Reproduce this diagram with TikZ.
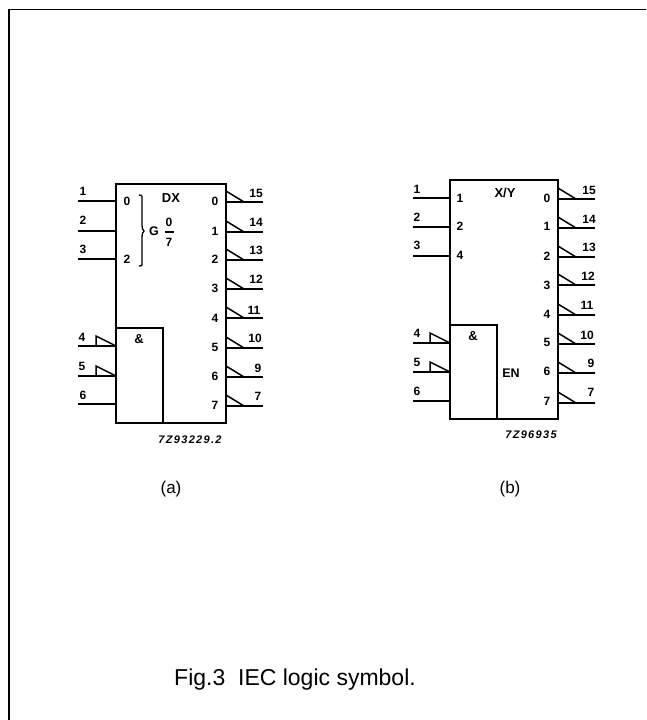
\documentclass[tikz,border=0pt]{standalone}
\usepackage{fontspec}
\setmainfont{Liberation Sans}
\tikzset{
  sym/.style={line width=2.1pt,draw=black},
  wire/.style={line width=2pt,draw=black},
  thin wire/.style={line width=1.5pt,draw=black},
  pin/.style={font=\bfseries\fontsize{12}{14}\selectfont,inner sep=0pt,anchor=center},
  tag/.style={font=\bfseries\itshape\fontsize{11}{13}\selectfont\addfontfeature{LetterSpace=12},inner sep=0pt},
  capt/.style={font=\fontsize{17}{20}\selectfont,inner sep=0pt},
}
\begin{document}
\begin{tikzpicture}[x=1pt,y=-1pt]
\useasboundingbox (0,0) rectangle (646,720);
\draw[line width=1.8pt] (9,720) -- (9,9.5) -- (646,9.5);
% (a)
\node[draw,sym,minimum width=110pt,minimum height=239pt,inner sep=0pt] (boxa) at (171,303.5) {};
\node[draw,sym,minimum width=47pt,minimum height=95pt,inner sep=0pt] (anda) at (139.5,375.5) {};
\foreach \y/\t/\ly in {201/1/191.7,231/2/220.7,259/3/249.3,404/6/395}{
  \draw[wire] (78,\y) -- (116,\y);
  \node[pin] at (83,\ly) {\t};
}
\foreach \y/\t/\ly in {346/4/337,376/5/366}{
  \draw[wire] (78,\y) -- (116,\y);
  \draw[thin wire] (96,\y) -- (96,\y-10) -- (116,\y);
  \node[pin] at (82,\ly) {\t};
}
\foreach \y/\l/\lx/\ly/\i/\iy in {202/15/256/193/0/201,232/14/256/222/1/231,260/13/256/250/2/259,289/12/256/279/3/288,318/11/254/310/4/318,348/10/255/338/5/347,377/9/258/368/6/376,406/7/258/396/7/405}{
  \draw[wire] (226,\y) -- ++(37,0);
  \draw[thin wire] (226,\y-11) -- ++(18,11);
  \node[pin] at (\lx,\ly) {\l};
  \node[pin] at (215,\iy) {\i};
}
\node[pin] at (127,201) {0};
\node[pin] at (127,259) {2};
\node[pin,font=\bfseries\fontsize{13}{15}\selectfont] at (171,198) {DX};
\node[pin,font=\bfseries\fontsize{13}{15}\selectfont] at (139,339) {\&};
\draw[line width=1.3pt] (139,195) .. controls (143,195) and (142,197) .. (142,202) -- (142,224)
  .. controls (142,229) and (143,230) .. (144,231) .. controls (143,232) and (142,233) .. (142,238)
  -- (142,260) .. controls (142,265) and (143,266) .. (139,266);
\node[pin,font=\bfseries\fontsize{12.5}{14}\selectfont] at (154,231) {G};
\draw[line width=1.5pt] (165,232) -- (174,232);
\node[pin] at (169,222) {0};
\node[pin] at (169,242) {7};
\node[tag] at (190,440) {7Z93229.2};
\node[capt] at (171,489) {(a)};
% (b)
\node[draw,sym,minimum width=108pt,minimum height=239pt,inner sep=0pt] (boxb) at (504,299.5) {};
\node[draw,sym,minimum width=47pt,minimum height=94pt,inner sep=0pt] (andb) at (473.5,372) {};
\foreach \y/\t/\ly in {198/1/189,227/2/217.7,256/3/245.7,401/6/391}{
  \draw[wire] (413,\y) -- (450,\y);
  \node[pin] at (417,\ly) {\t};
}
\foreach \y/\t/\ly in {343/4/333,372/5/362}{
  \draw[wire] (413,\y) -- (450,\y);
  \draw[thin wire] (430,\y) -- (430,\y-10) -- (450,\y);
  \node[pin] at (417,\ly) {\t};
}
\foreach \y/\l/\lx/\ly/\i/\iy in {199/15/589/190/0/198,228/14/589/219/1/226.7,257/13/589/247.7/2/256,285/12/588/276.7/3/285,315/11/587/305/4/314,344/10/587/335/5/342.7,373/9/591/363/6/371.7,403/7/591/392.7/7/401}{
  \draw[wire] (558,\y) -- ++(37,0);
  \draw[thin wire] (558,\y-11) -- ++(18,11);
  \node[pin] at (\lx,\ly) {\l};
  \node[pin] at (547,\iy) {\i};
}
\node[pin] at (460,198) {1};
\node[pin] at (460,226.7) {2};
\node[pin] at (460,255) {4};
\node[pin,font=\bfseries\fontsize{13}{15}\selectfont] at (505,193) {X/Y};
\node[pin,font=\bfseries\fontsize{13}{15}\selectfont] at (473,336) {\&};
\node[pin,font=\bfseries\fontsize{12.5}{14}\selectfont] at (511,372.7) {EN};
\node[tag] at (531,435) {7Z96935};
\node[capt] at (510,489) {(b)};
\node[font=\fontsize{23}{27}\selectfont,inner sep=0pt] at (295,680) {Fig.3\ \ IEC logic symbol.};
\end{tikzpicture}
\end{document}
